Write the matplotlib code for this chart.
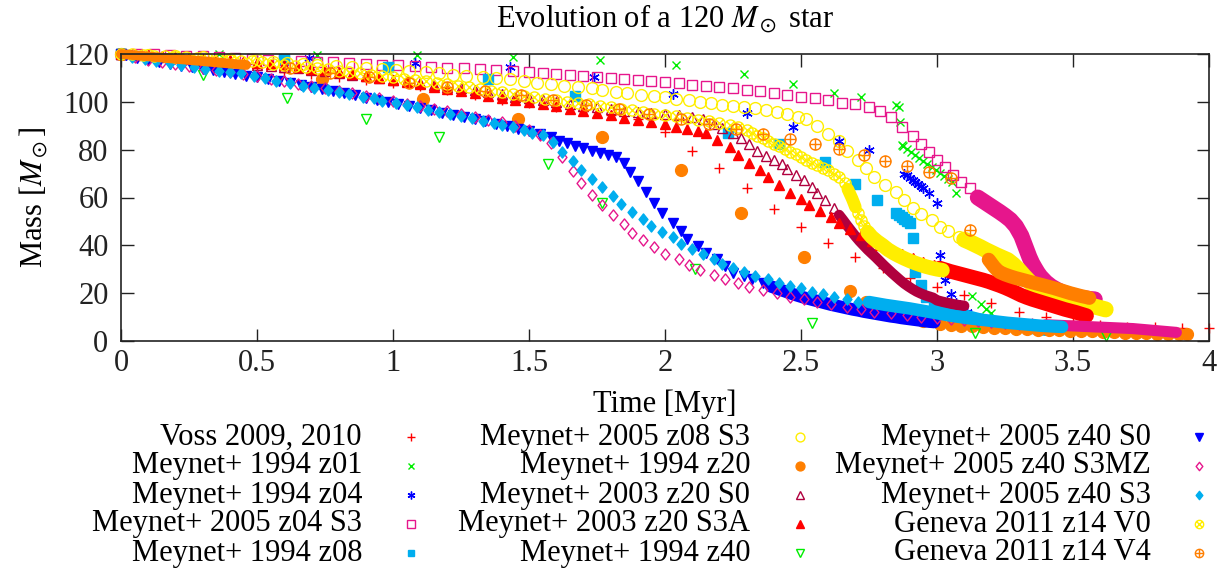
import numpy as np
import matplotlib.pyplot as plt
from matplotlib.path import Path

plt.rcParams['font.family'] = ['Liberation Serif', 'DejaVu Serif']
plt.rcParams['mathtext.fontset'] = 'stix'

# ---- mass tracks: time [Myr], mass [Msun] ----
# *_band_* holds the stretches where the model output is so dense that the points merge into a band
voss_t = [0.0, 0.1, 0.2, 0.3, 0.4, 0.5, 0.6, 0.7, 0.8, 0.9, 1.0, 1.1, 1.2, 1.3, 1.4, 1.5, 1.6, 1.7, 1.8, 1.9,
          2.0, 2.1, 2.2, 2.3, 2.4, 2.5, 2.6, 2.7, 2.8, 2.9, 3.0, 3.1, 3.2, 3.3, 3.4, 3.5, 3.6, 3.7, 3.8, 3.9, 4.0]
voss_m = [120, 119.2, 118.0, 116.8, 115.5, 114.0, 112.5, 111.5, 110.3, 109.3, 108.0, 106.8, 105.0, 103.0, 100.8,
          99.4, 98.0, 96.2, 94.6, 92.8, 87.4, 79.4, 72.3, 64.0, 55.2, 47.5, 41.0, 35.3, 30.4, 26.3, 22.6, 19.2,
          15.9, 12.1, 10.0, 8.4, 6.8, 6.0, 5.7, 5.6, 5.5]

z01_t = [0.0, 0.36, 0.72, 1.09, 1.44, 1.76, 2.04, 2.29, 2.47, 2.62, 2.72, 2.85, 2.86, 2.865, 2.87, 2.875, 2.89,
         2.905, 2.92, 2.935, 2.95, 2.965, 2.98, 2.995, 3.01, 3.025, 3.04, 3.055, 3.07, 3.13, 3.16, 3.18, 3.20]
z01_m = [120, 120, 119.6, 119.6, 118.7, 117.5, 115.4, 111.6, 107.4, 103.7, 102.0, 98.5, 97.8, 91.5, 82.0, 81.5,
         80.2, 79.0, 77.8, 76.6, 75.4, 74.1, 72.8, 71.5, 70.2, 68.9, 67.6, 66.3, 62.0, 18.8, 15.5, 13.3, 11.7]

z04_t = [0.0, 0.69, 1.08, 1.43, 1.74, 2.03, 2.30, 2.47, 2.64, 2.75, 2.88, 2.89, 2.90, 2.91, 2.92, 2.93, 2.94,
         2.95, 2.97, 3.00, 3.01, 3.03, 3.05, 3.07, 3.09, 3.11]
z04_m = [120, 118.3, 116.2, 114.5, 110.4, 103.3, 95.3, 89.5, 83.6, 79.8, 70.0, 69.2, 68.1, 67.3, 66.5, 65.6, 64.7,
         64.0, 62.0, 57.7, 36.0, 25.5, 19.6, 16.0, 13.8, 12.1]

z04s3_t = [0.00, 0.06, 0.12, 0.18, 0.24, 0.30, 0.36, 0.42, 0.48, 0.54, 0.60, 0.66, 0.72, 0.78, 0.84, 0.90, 0.96,
           1.02, 1.08, 1.14, 1.20, 1.26, 1.32, 1.38, 1.44, 1.50, 1.55, 1.60, 1.65, 1.70, 1.75, 1.80, 1.85, 1.90,
           1.95, 2.00, 2.05, 2.10, 2.15, 2.20, 2.25, 2.30, 2.35, 2.40, 2.45, 2.50, 2.55, 2.60, 2.65, 2.70, 2.75,
           2.79, 2.83, 2.87, 2.91, 2.94, 2.97, 3.00, 3.03, 3.06, 3.09, 3.12]
z04s3_m = [120.0, 120.0, 119.8, 119.6, 119.3, 119.0, 118.7, 118.3, 118.0, 117.7, 117.4, 117.1, 116.8, 116.5,
           116.2, 115.9, 115.6, 115.3, 115.0, 114.6, 114.3, 114.0, 113.7, 113.3, 112.9, 112.4, 112.0, 111.6,
           111.2, 110.8, 110.4, 110.0, 109.5, 109.1, 108.7, 108.2, 107.8, 107.2, 106.6, 106.1, 105.6, 105.0,
           104.4, 103.7, 103.0, 102.2, 101.4, 100.6, 99.6, 98.9, 97.8, 96.2, 93.5, 89.5, 85.8, 82.5, 79.0,
           75.8, 72.6, 69.6, 66.6, 64.0]
z04s3_band_t = [3.15, 3.17, 3.19, 3.21, 3.23, 3.25, 3.27, 3.29, 3.30, 3.31, 3.32, 3.33, 3.34, 3.35, 3.36, 3.37,
                3.38, 3.40, 3.42, 3.44, 3.46, 3.48, 3.50, 3.52, 3.54, 3.56, 3.58]
z04s3_band_m = [60.0, 58.5, 57.0, 55.5, 54.0, 52.4, 50.6, 48.0, 46.0, 44.0, 41.0, 38.0, 35.0, 32.5, 30.5, 28.6,
                27.0, 24.6, 22.8, 21.5, 20.4, 19.6, 18.9, 18.3, 17.9, 17.6, 17.4]

z08_t = [0.0, 0.60, 0.98, 1.35, 1.67, 2.23, 2.42, 2.59, 2.70, 2.78, 2.85, 2.86, 2.87, 2.88, 2.89, 2.90, 2.91,
         2.92, 2.94, 2.96, 2.99]
z08_m = [120, 117.9, 114.5, 109.5, 102.4, 87.0, 82.4, 74.8, 65.6, 58.9, 53.5, 52.6, 51.8, 51.0, 50.2, 49.3, 43.0,
         28.8, 23.4, 18.4, 15.0]
z08_band_t = [3.02, 3.06, 3.10, 3.14, 3.18, 3.22, 3.26, 3.30, 3.34, 3.38, 3.40]
z08_band_m = [13.5, 12.2, 11.0, 9.8, 8.7, 7.7, 6.8, 6.0, 5.3, 4.7, 4.4]

z08s3_t = [0.0, 0.1, 0.2, 0.3, 0.4, 0.5, 0.56, 0.61, 0.67, 0.72, 0.79, 0.85, 0.90, 0.96, 1.01, 1.06, 1.12, 1.17,
           1.22, 1.27, 1.33, 1.38, 1.43, 1.48, 1.53, 1.58, 1.63, 1.68, 1.73, 1.77, 1.82, 1.86, 1.91, 1.96, 2.00,
           2.04, 2.09, 2.13, 2.17, 2.21, 2.25, 2.29, 2.33, 2.37, 2.41, 2.45, 2.49, 2.52, 2.56, 2.60, 2.64, 2.67,
           2.71, 2.74, 2.77, 2.81, 2.85, 2.88, 2.91, 2.94, 2.98, 3.01, 3.04, 3.08]
z08s3_m = [120, 119.6, 119.2, 118.7, 118.1, 117.5, 116.6, 116.2, 115.8, 115.6, 115.0, 114.5, 114.1, 113.7, 113.4,
           112.9, 112.5, 112.0, 111.4, 111.0, 110.4, 110.0, 109.5, 108.7, 107.9, 107.4, 106.6, 106.2, 105.8,
           104.9, 104.1, 103.7, 102.8, 102.6, 102.0, 101.2, 100.8, 99.9, 99.5, 98.7, 98.2, 97.8, 97.4, 96.6, 95.7,
           94.9, 93.6, 92.8, 89.9, 86.5, 83.6, 79.5, 75.5, 72.5, 68.6, 65.4, 62.3, 58.9, 55.6, 53.1, 50.6, 47.7,
           46.0, 43.5]
z08s3_band_t = [3.10, 3.12, 3.14, 3.16, 3.18, 3.20, 3.22, 3.24, 3.26, 3.28, 3.30, 3.32, 3.34, 3.36, 3.38, 3.40,
                3.42, 3.44, 3.46, 3.48, 3.50, 3.52, 3.54, 3.56, 3.58, 3.60, 3.62]
z08s3_band_m = [42.4, 41.4, 40.3, 39.2, 38.0, 36.9, 35.8, 34.8, 33.8, 32.0, 29.8, 27.2, 24.8, 22.8, 21.2, 20.0,
                19.0, 18.2, 17.6, 17.0, 16.5, 16.0, 15.5, 15.0, 14.4, 13.8, 13.2]

z20_t = [0.0, 0.74, 1.11, 1.46, 1.77, 2.06, 2.28, 2.51, 2.68, 2.74, 2.80, 2.88, 2.95, 3.01, 3.05, 3.09, 3.13,
         3.17, 3.21, 3.25, 3.29, 3.33, 3.37, 3.41, 3.45, 3.49, 3.53, 3.57, 3.61, 3.65, 3.69, 3.73, 3.77, 3.81,
         3.85, 3.89, 3.92]
z20_m = [120, 109.5, 101.2, 92.8, 85.3, 71.5, 53.5, 35.1, 20.9, 16.3, 13.0, 10.0, 8.3, 7.3, 6.8, 6.4, 6.1, 5.8,
         5.6, 5.4, 5.2, 5.0, 4.8, 4.6, 4.4, 4.3, 4.1, 4.0, 3.8, 3.7, 3.5, 3.4, 3.3, 3.1, 3.0, 2.9, 2.8]

z20s0_t = [0.0, 0.05, 0.1, 0.15, 0.2, 0.25, 0.3, 0.35, 0.4, 0.45, 0.5, 0.55, 0.6, 0.65, 0.7, 0.75, 0.8, 0.85,
           0.9, 0.95, 1.0, 1.05, 1.1, 1.15, 1.2, 1.25, 1.3, 1.35, 1.4, 1.45, 1.5, 1.55, 1.6, 1.65, 1.7, 1.75,
           1.8, 1.85, 1.9, 1.95, 2.0, 2.05, 2.10, 2.14, 2.18, 2.21, 2.25, 2.28, 2.31, 2.34, 2.37, 2.40, 2.43,
           2.45, 2.48, 2.51, 2.54, 2.56, 2.59, 2.62]
z20s0_m = [120, 119.7, 119.3, 118.9, 118.5, 118.0, 117.6, 117.1, 116.6, 116.1, 115.6, 115.1, 114.6, 114.0,
           113.4, 112.8, 112.1, 111.4, 110.7, 110.0, 109.3, 108.6, 107.9, 107.2, 106.4, 105.6, 104.8, 104.0,
           103.1, 102.2, 101.4, 100.6, 99.9, 99.2, 98.4, 97.7, 97.0, 96.3, 95.7, 95.2, 94.8, 94.4, 93.8, 92.8,
           90.8, 89.0, 87.0, 84.9, 82.4, 79.4, 77.3, 75.7, 74.0, 71.9, 69.4, 67.3, 64.4, 61.9, 58.9, 55.6]
z20s0_band_t = [2.64, 2.655, 2.67, 2.685, 2.70, 2.715, 2.73, 2.745, 2.76, 2.775, 2.79, 2.805, 2.82, 2.835, 2.85,
                2.865, 2.88, 2.895, 2.91, 2.925, 2.94, 2.955, 2.97, 2.985, 3.00, 3.02, 3.04, 3.06, 3.08, 3.10]
z20s0_band_m = [52.7, 50.5, 48.2, 46.0, 43.8, 41.8, 40.0, 38.2, 36.6, 35.0, 33.3, 31.6, 30.0, 28.4, 26.9, 25.4,
                24.0, 22.8, 21.7, 20.7, 19.9, 19.2, 18.6, 18.1, 17.0, 16.4, 15.9, 15.4, 15.0, 14.7]

z20s3a_t = [0.00, 0.05, 0.10, 0.15, 0.20, 0.25, 0.30, 0.35, 0.40, 0.45, 0.50, 0.55, 0.60, 0.65, 0.70, 0.75,
            0.80, 0.85, 0.90, 0.95, 1.00, 1.05, 1.10, 1.15, 1.20, 1.25, 1.30, 1.35, 1.40, 1.45, 1.50, 1.55,
            1.60, 1.65, 1.70, 1.75, 1.80, 1.85, 1.90, 1.95, 2.00, 2.04, 2.08, 2.12, 2.15, 2.19, 2.24, 2.27,
            2.31, 2.35, 2.38, 2.42, 2.46, 2.50, 2.53, 2.57, 2.61, 2.64, 2.68, 2.72, 2.76, 2.79, 2.83, 2.87,
            2.91, 2.95, 2.99]
z20s3a_m = [120.0, 119.7, 119.4, 119.1, 118.8, 118.4, 118.1, 117.7, 117.3, 116.8, 116.3, 115.8, 115.3, 114.6,
            113.9, 113.2, 112.4, 111.6, 110.8, 110.0, 109.2, 108.3, 107.4, 106.4, 105.5, 104.5, 103.5, 102.5,
            101.5, 100.6, 99.8, 98.9, 98.1, 97.1, 96.2, 95.2, 94.3, 93.4, 92.5, 91.6, 90.7, 89.5, 88.6, 87.8,
            87.0, 84.0, 81.1, 77.8, 74.4, 71.5, 68.6, 65.2, 61.9, 59.4, 56.9, 54.3, 51.8, 49.3, 46.8, 44.3,
            42.0, 40.1, 38.2, 36.4, 34.6, 33.0, 31.6]
z20s3a_band_t = [3.01, 3.03, 3.05, 3.07, 3.09, 3.11, 3.13, 3.15, 3.17, 3.19, 3.21, 3.23, 3.25, 3.27, 3.29, 3.31,
                 3.33, 3.35, 3.37, 3.39, 3.41, 3.43, 3.45, 3.47, 3.49, 3.51, 3.53, 3.55]
z20s3a_band_m = [30.5, 29.8, 29.1, 28.5, 27.9, 27.3, 26.7, 26.1, 25.5, 24.8, 24.0, 23.2, 22.3, 21.3, 20.2, 19.1,
                 18.2, 17.4, 16.7, 16.0, 15.3, 14.6, 13.9, 13.2, 12.6, 12.0, 11.3, 10.6]

z40_t = [0.0, 0.30, 0.61, 0.90, 1.17, 1.57, 1.77, 2.11, 2.54, 3.14, 3.62]
z40_m = [120, 111.4, 101.8, 92.8, 85.3, 74.0, 57.7, 30.1, 7.5, 3.3, 2.1]

z40s0_t = [0.00, 0.02, 0.06, 0.10, 0.14, 0.18, 0.22, 0.26, 0.30, 0.34, 0.38, 0.42, 0.46, 0.50, 0.54, 0.58,
           0.62, 0.66, 0.70, 0.74, 0.78, 0.82, 0.86, 0.90, 0.94, 0.98, 1.02, 1.06, 1.10, 1.14, 1.18, 1.22,
           1.26, 1.30, 1.34, 1.38, 1.42, 1.46, 1.50, 1.54, 1.58, 1.61, 1.64, 1.67, 1.70, 1.73, 1.76, 1.79,
           1.82, 1.85, 1.87, 1.90, 1.93, 1.96, 1.99, 2.03, 2.06, 2.08, 2.12, 2.15, 2.19, 2.22, 2.25, 2.29,
           2.32, 2.36]
z40s0_m = [120.0, 119.5, 118.3, 117.3, 116.5, 115.8, 115.1, 114.4, 113.8, 113.2, 112.5, 111.8, 111.0, 110.3,
           109.5, 108.7, 107.9, 107.0, 106.1, 105.3, 104.5, 103.6, 102.7, 101.8, 100.9, 100.0, 99.1, 98.2,
           97.3, 96.4, 95.5, 94.6, 93.7, 92.8, 91.8, 90.8, 89.8, 88.8, 87.7, 86.5, 85.3, 83.6, 82.8, 81.5,
           80.7, 79.4, 78.6, 77.8, 76.9, 74.4, 70.7, 66.7, 62.1, 57.7, 53.5, 49.5, 45.8, 42.6, 39.7, 36.8,
           34.3, 31.4, 28.4, 27.2, 25.9, 24.2]
z40s0_band_t = [2.39, 2.41, 2.43, 2.45, 2.47, 2.49, 2.51, 2.53, 2.55, 2.57, 2.59, 2.61, 2.63, 2.65, 2.67, 2.69,
                2.71, 2.73, 2.75, 2.77, 2.79, 2.81, 2.83, 2.85, 2.87, 2.89, 2.91, 2.93, 2.95, 2.97, 2.99]
z40s0_band_m = [22.8, 22.0, 21.2, 20.4, 19.6, 18.9, 18.2, 17.6, 17.0, 16.4, 15.8, 15.2, 14.7, 14.2, 13.7, 13.2,
                12.8, 12.3, 11.9, 11.5, 11.1, 10.7, 10.3, 10.0, 9.6, 9.3, 9.0, 8.7, 8.4, 8.1, 7.9]

z40s3mz_t = [0.00, 0.05, 0.10, 0.15, 0.20, 0.25, 0.30, 0.35, 0.40, 0.45, 0.50, 0.55, 0.60, 0.65, 0.70, 0.75,
             0.80, 0.85, 0.90, 0.95, 1.00, 1.05, 1.10, 1.15, 1.20, 1.25, 1.30, 1.35, 1.40, 1.45, 1.50, 1.54,
             1.58, 1.62, 1.66, 1.69, 1.73, 1.77, 1.81, 1.85, 1.88, 1.92, 1.96, 2.00, 2.05, 2.09, 2.13, 2.18,
             2.22, 2.27, 2.31, 2.36, 2.41, 2.46, 2.51, 2.56, 2.61, 2.67, 2.72, 2.77, 2.83, 2.89, 2.94, 3.00,
             3.05, 3.10, 3.15, 3.20, 3.25, 3.30, 3.35]
z40s3mz_m = [120.0, 118.6, 117.5, 116.6, 115.8, 115.0, 114.2, 113.3, 112.5, 111.6, 110.6, 109.6, 108.6, 107.6,
             106.6, 105.6, 104.6, 103.6, 102.6, 101.5, 100.4, 99.3, 98.2, 97.1, 96.0, 94.9, 93.8, 92.6, 91.4,
             90.0, 88.4, 86.2, 82.8, 76.9, 71.1, 66.1, 61.0, 56.9, 52.7, 48.9, 45.2, 42.2, 39.3, 36.4, 34.3,
             31.8, 29.7, 27.6, 25.9, 24.2, 22.6, 21.3, 20.1, 18.4, 17.6, 16.3, 15.5, 14.2, 13.4, 12.1, 11.7,
             10.9, 10.0, 9.6, 9.2, 8.8, 8.4, 8.0, 7.6, 7.3, 7.0]
z40s3mz_band_t = [3.40, 3.44, 3.48, 3.52, 3.56, 3.60, 3.64, 3.68, 3.72, 3.76, 3.80, 3.84, 3.88]
z40s3mz_band_m = [6.8, 6.6, 6.4, 6.2, 6.0, 5.8, 5.6, 5.4, 5.2, 4.8, 4.4, 4.0, 3.6]

z40s3_t = [0.00, 0.04, 0.09, 0.13, 0.18, 0.22, 0.27, 0.31, 0.36, 0.40, 0.44, 0.49, 0.53, 0.57, 0.62, 0.67,
           0.71, 0.76, 0.80, 0.84, 0.89, 0.93, 0.96, 1.01, 1.05, 1.09, 1.13, 1.17, 1.21, 1.25, 1.29, 1.33,
           1.37, 1.40, 1.44, 1.48, 1.51, 1.55, 1.59, 1.62, 1.66, 1.69, 1.73, 1.77, 1.81, 1.84, 1.88, 1.92,
           1.95, 1.99, 2.03, 2.06, 2.10, 2.14, 2.18, 2.21, 2.25, 2.29, 2.33, 2.38, 2.42, 2.46, 2.50, 2.54,
           2.58, 2.62, 2.67, 2.71]
z40s3_m = [120.0, 118.8, 117.8, 117.0, 116.1, 115.3, 114.5, 113.8, 113.0, 112.4, 112.0, 110.8, 110.0, 108.7,
           107.9, 106.6, 105.8, 104.9, 104.1, 103.3, 102.0, 101.6, 100.3, 99.5, 98.7, 97.8, 96.6, 95.7, 94.9,
           94.1, 93.2, 92.0, 91.1, 90.3, 89.5, 88.2, 87.0, 86.1, 83.2, 79.0, 75.3, 71.5, 67.7, 64.4, 60.6,
           57.3, 53.9, 51.0, 48.1, 45.6, 43.5, 40.6, 38.5, 36.4, 34.3, 32.2, 30.5, 28.8, 27.2, 25.9, 24.2,
           23.0, 22.2, 20.5, 19.6, 18.4, 17.6, 16.3]
z40s3_band_t = [2.75, 2.78, 2.81, 2.84, 2.87, 2.90, 2.93, 2.96, 2.99, 3.02, 3.05, 3.08, 3.11, 3.14, 3.17, 3.20,
                3.23, 3.26, 3.29, 3.32, 3.35, 3.38, 3.41, 3.44, 3.46]
z40s3_band_m = [16.3, 15.7, 15.1, 14.6, 14.1, 13.6, 13.0, 12.4, 11.8, 11.2, 10.6, 10.1, 9.6, 9.2, 8.8, 8.4, 8.0,
                7.6, 7.3, 7.0, 6.7, 6.4, 6.2, 6.0, 5.9]

v0_t = [0.00, 0.04, 0.08, 0.12, 0.16, 0.20, 0.24, 0.28, 0.32, 0.36, 0.40, 0.44, 0.48, 0.52, 0.56, 0.60, 0.64,
        0.68, 0.72, 0.76, 0.80, 0.84, 0.88, 0.92, 0.96, 1.00, 1.04, 1.08, 1.12, 1.16, 1.20, 1.24, 1.28, 1.32,
        1.36, 1.40, 1.44, 1.48, 1.52, 1.56, 1.60, 1.64, 1.68, 1.72, 1.76, 1.80, 1.84, 1.88, 1.92, 1.96, 2.00,
        2.04, 2.08, 2.12, 2.16, 2.20, 2.24, 2.27, 2.30, 2.32, 2.34, 2.36, 2.38, 2.40, 2.42, 2.44, 2.46, 2.48,
        2.50, 2.52, 2.54, 2.56, 2.58, 2.60, 2.62, 2.64, 2.66, 2.71, 2.72, 2.73]
v0_m = [120.0, 119.8, 119.5, 119.3, 119.1, 118.9, 118.7, 118.4, 118.1, 117.8, 117.5, 117.2, 116.9, 116.5,
        116.0, 115.6, 115.1, 114.6, 114.1, 113.6, 113.1, 112.5, 112.0, 111.4, 110.9, 110.3, 109.7, 109.2,
        108.6, 108.0, 107.4, 106.8, 106.1, 105.4, 104.7, 104.0, 103.3, 102.6, 101.9, 101.3, 100.6, 100.0,
        99.4, 98.9, 98.3, 97.7, 97.1, 96.4, 95.8, 95.1, 94.5, 93.9, 93.3, 92.6, 91.9, 91.2, 90.4, 89.4, 88.2,
        87.0, 85.9, 84.7, 83.6, 82.5, 81.4, 80.3, 79.2, 78.0, 76.8, 75.5, 74.4, 73.4, 72.4, 71.4, 70.0, 68.6,
        66.0, 53.5, 50.5, 48.0]
v0_band_t = [2.672, 2.68, 2.688, 2.695, 2.70]
v0_band_m = [63.5, 61.5, 59.5, 57.5, 56.0]
v0_band2_t = [2.745, 2.76, 2.78, 2.80, 2.82, 2.84, 2.86, 2.88, 2.90, 2.92, 2.94, 2.96, 2.98, 3.00, 3.02]
v0_band2_m = [45.5, 43.5, 41.6, 40.0, 38.2, 36.8, 35.6, 34.5, 33.5, 32.6, 31.8, 31.1, 30.5, 30.0, 29.6]

v4_start_t = [0.00, 0.04, 0.08, 0.12, 0.16, 0.20, 0.24, 0.28, 0.32, 0.36, 0.40, 0.44, 0.46]
v4_start_m = [120.0, 119.6, 119.2, 118.8, 118.4, 118.0, 117.6, 117.2, 116.8, 116.4, 116.0, 115.6, 115.4]
v4_t = [0.62, 0.77, 0.91, 1.06, 1.20, 1.34, 1.47, 1.59, 1.71, 1.83, 1.94, 2.06, 2.16, 2.26, 2.36, 2.46, 2.55,
        2.64, 2.73, 2.81, 2.89, 2.97, 3.05, 3.12]
v4_m = [114.1, 112.0, 110.4, 107.9, 106.2, 104.5, 102.8, 100.8, 98.7, 97.0, 94.9, 92.8, 90.7, 88.6, 86.5,
        84.4, 82.4, 80.3, 77.8, 75.3, 73.2, 70.7, 68.1, 46.4]
v4_band_t = [3.19, 3.20, 3.21, 3.22, 3.23, 3.25, 3.27, 3.29, 3.31, 3.33, 3.35, 3.37, 3.39, 3.41, 3.43, 3.45,
             3.47, 3.49, 3.51, 3.53, 3.55, 3.56]
v4_band_m = [34.0, 32.5, 31.0, 29.8, 28.8, 27.8, 27.0, 26.3, 25.7, 25.1, 24.5, 23.9, 23.3, 22.7, 22.1, 21.4,
             20.7, 20.0, 19.4, 18.8, 18.3, 18.0]

labels = ['Voss 2009, 2010', 'Meynet+ 1994 z01', 'Meynet+ 1994 z04', 'Meynet+ 2005 z04 S3',
          'Meynet+ 1994 z08', 'Meynet+ 2005 z08 S3', 'Meynet+ 1994 z20', 'Meynet+ 2003 z20 S0',
          'Meynet+ 2003 z20 S3A', 'Meynet+ 1994 z40', 'Meynet+ 2005 z40 S0', 'Meynet+ 2005 z40 S3MZ',
          'Meynet+ 2005 z40 S3', 'Geneva 2011 z14 V0', 'Geneva 2011 z14 V4']
tracks = [(voss_t, voss_m), (z01_t, z01_m), (z04_t, z04_m), (z04s3_t, z04s3_m), (z08_t, z08_m),
          (z08s3_t, z08s3_m), (z20_t, z20_m), (z20s0_t, z20s0_m), (z20s3a_t, z20s3a_m), (z40_t, z40_m),
          (z40s0_t, z40s0_m), (z40s3mz_t, z40s3mz_m), (z40s3_t, z40s3_m), (v0_t, v0_m), (v4_t, v4_m)]
# dense stretches, with the width (pt) of the merged band
bands = [[], [], [],
         [(z04s3_band_t, z04s3_band_m, 11.5)],
         [(z08_band_t, z08_band_m, 8)],
         [(z08s3_band_t, z08s3_band_m, 11.5)],
         [],
         [(z20s0_band_t, z20s0_band_m, 7.5)],
         [(z20s3a_band_t, z20s3a_band_m, 10.5)],
         [],
         [(z40s0_band_t, z40s0_band_m, 9)],
         [(z40s3mz_band_t, z40s3mz_band_m, 8)],
         [(z40s3_band_t, z40s3_band_m, 9)],
         [(v0_band_t, v0_band_m, 9), (v0_band2_t, v0_band2_m, 10.5)],
         [(v4_start_t, v4_start_m, 7), (v4_band_t, v4_band_m, 10)]]

# gnuplot style point types
M, L, C = Path.MOVETO, Path.LINETO, Path.CLOSEPOLY
circ = Path.unit_circle()
otimes = Path.make_compound_path(circ, Path([(-0.71, -0.71), (0.71, 0.71), (-0.71, 0.71), (0.71, -0.71)],
                                            [M, L, M, L]))
oplus = Path.make_compound_path(circ, Path([(-1, 0), (1, 0), (0, -1), (0, 1)], [M, L, M, L]))
diam = Path([(0, 1), (0.8, 0), (0, -1), (-0.8, 0), (0, 0)], [M, L, L, L, C])

red, green, blue = '#ff0000', '#00ee00', '#0000ff'
pink, cyan, yellow, orange, crimson = '#e6168c', '#00aeef', '#ffee00', '#ff7f00', '#b0003e'

styles = [
    dict(marker='+', ms=7.5, mec=red),
    dict(marker='x', ms=6, mec=green),
    dict(marker=(6, 2, 0), ms=7.5, mec=blue),
    dict(marker='s', ms=7.5, mec=pink, mfc='none'),
    dict(marker='s', ms=6.5, mec=cyan, mfc=cyan),
    dict(marker='o', ms=8.5, mec=yellow, mfc='none'),
    dict(marker='o', ms=8.5, mec=orange, mfc=orange),
    dict(marker='^', ms=7.5, mec=crimson, mfc='none'),
    dict(marker='^', ms=7.5, mec=red, mfc=red),
    dict(marker='v', ms=7.5, mec=green, mfc='none'),
    dict(marker='v', ms=7.5, mec=blue, mfc=blue),
    dict(marker=diam, ms=8, mec=pink, mfc='none'),
    dict(marker=diam, ms=8, mec=cyan, mfc=cyan),
    dict(marker=otimes, ms=8, mec=yellow, mfc='none'),
    dict(marker=oplus, ms=8, mec=orange, mfc='none'),
]

W, H = 1223, 579
fig = plt.figure(figsize=(W / 100, H / 100), dpi=100)
ax = fig.add_axes([121 / W, 1 - 341 / H, 1088 / W, 287 / H])

for (t, m), bs, st in zip(tracks, bands, styles):
    for bt, bm, lw in bs:
        ax.plot(bt, bm, color=st['mec'], lw=lw, solid_capstyle='round', solid_joinstyle='round',
                clip_on=False)
    ax.plot(t, m, ls='none', mew=1.0, clip_on=False, **st)

ax.set_xlim(0, 4)
ax.set_ylim(0, 120)
ax.set_xticks(np.arange(0, 4.01, 0.5))
ax.set_xticklabels(['0', '0.5', '1', '1.5', '2', '2.5', '3', '3.5', '4'])
ax.set_yticks(np.arange(0, 121, 20))
ax.tick_params(direction='in', length=9, width=1, top=True, right=True, labelsize=22, colors='#222222')
ax.tick_params(axis='x', pad=6)
ax.tick_params(axis='y', pad=9)
for sp in ax.spines.values():
    sp.set_linewidth(1.2)
    sp.set_color('#222222')
ax.set_xlabel('Time [Myr]', fontsize=22, labelpad=8)
ax.set_ylabel('Mass [$M_\\odot$]', fontsize=22, labelpad=10)
ax.set_title('Evolution of a 120 $M_\\odot$ star', fontsize=22, pad=20)

# key: text right-aligned, point to the right, three columns of five
key = fig.add_axes([0, 0, 1, 1])
key.set_xlim(0, W)
key.set_ylim(H, 0)
key.axis('off')
key.patch.set_visible(False)
text_x = [362, 750, 1151]
mark_x = [411, 800, 1199]
row_y = [437, 466, 495, 524, 553]
for i, (lab, st) in enumerate(zip(labels, styles)):
    c, r = divmod(i, 5)
    key.text(text_x[c], row_y[r], lab, ha='right', va='center', fontsize=22)
    kst = dict(st, ms=st['ms'] * 0.75)
    key.plot([mark_x[c]], [row_y[r]], ls='none', mew=1.0, **kst)

fig.savefig('out.png', dpi=100)
